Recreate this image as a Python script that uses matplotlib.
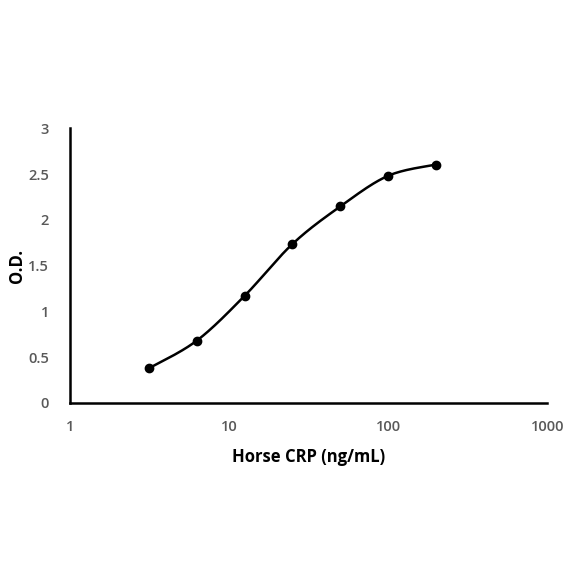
import numpy as np
import matplotlib
matplotlib.use('Agg')
import matplotlib.pyplot as plt

conc = [3.125, 6.25, 12.5, 25, 50, 100, 200]
od = [0.378, 0.68, 1.17, 1.737, 2.148, 2.483, 2.606]
xticks = [1, 10, 100, 1000]
yticks = [0, 0.5, 1, 1.5, 2, 2.5, 3]

plt.rcParams['font.family'] = ['Open Sans', 'DejaVu Sans']


def smooth(xs, ys, n=30):
    # bezier smoothing through points (like a spreadsheet smoothed line), in log-x space
    lx = np.log10(xs)
    y = np.asarray(ys, dtype=float)
    px, py = [], []
    for i in range(len(lx) - 1):
        x0, y0 = lx[max(i - 1, 0)], y[max(i - 1, 0)]
        x1, y1 = lx[i], y[i]
        x2, y2 = lx[i + 1], y[i + 1]
        x3, y3 = lx[min(i + 2, len(lx) - 1)], y[min(i + 2, len(lx) - 1)]
        c1x, c1y = x1 + (x2 - x0) / 6, y1 + (y2 - y0) / 6
        c2x, c2y = x2 - (x3 - x1) / 6, y2 - (y3 - y1) / 6
        t = np.linspace(0, 1, n)
        bx = (1-t)**3*x1 + 3*(1-t)**2*t*c1x + 3*(1-t)*t**2*c2x + t**3*x2
        by = (1-t)**3*y1 + 3*(1-t)**2*t*c1y + 3*(1-t)*t**2*c2y + t**3*y2
        px.extend(bx)
        py.extend(by)
    return 10 ** np.array(px), np.array(py)


fig = plt.figure(figsize=(5.84, 5.84), dpi=100)
ax = fig.add_axes([0.12, 0.31, 0.817, 0.47])

sx, sy = smooth(conc, od)
ax.plot(sx, sy, color='black', lw=1.8)
ax.plot(conc, od, 'o', color='black', ms=6)

ax.set_xscale('log')
ax.set_xlim(1, 1000)
ax.set_ylim(0, 3)
ax.set_xticks(xticks)
ax.set_xticklabels([str(v) for v in xticks])
ax.xaxis.set_minor_locator(matplotlib.ticker.NullLocator())
ax.set_yticks(yticks)
ax.set_yticklabels(['0', '0.5', '1', '1.5', '2', '2.5', '3'])
ax.tick_params(length=0, labelsize=10.5, labelcolor='#595959')
for lbl in ax.get_xticklabels() + ax.get_yticklabels():
    lbl.set_fontweight('semibold')
ax.tick_params(axis='y', pad=15)
ax.tick_params(axis='x', pad=12)

for s in ['top', 'right']:
    ax.spines[s].set_visible(False)
for s in ['left', 'bottom']:
    ax.spines[s].set_linewidth(1.8)

ax.set_xlabel('Horse CRP (ng/mL)', fontsize=12, fontweight='bold', labelpad=10)
ax.set_ylabel('O.D.', fontsize=12, fontweight='bold', labelpad=2)

fig.savefig('out.png', dpi=100)
